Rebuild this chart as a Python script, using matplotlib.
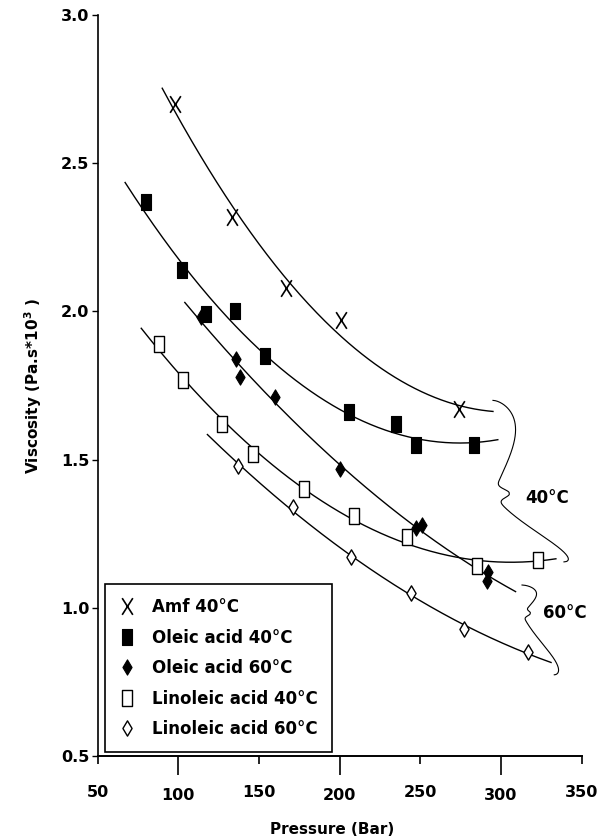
import numpy as np
import matplotlib
matplotlib.use('Agg')
import matplotlib.pyplot as plt
from matplotlib.path import Path
from matplotlib.ticker import FormatStrFormatter

plt.rcParams['font.family'] = ['DejaVu Sans']
plt.rcParams['font.weight'] = 'bold'
plt.rcParams['axes.labelweight'] = 'bold'
plt.rcParams['font.size'] = 11

# values (pressure in bar, viscosity in Pa.s*10^3)
amf_p = [98, 133, 167, 201, 274]
amf_v = [2.70, 2.32, 2.08, 1.97, 1.67]
ole40_p = [80, 102, 117, 135, 154, 206, 235, 247, 283]
ole40_v = [2.37, 2.14, 1.99, 2.00, 1.85, 1.66, 1.62, 1.55, 1.55]
ole60_p = [114, 136, 138, 160, 200, 247, 251, 292, 291]
ole60_v = [1.98, 1.84, 1.78, 1.71, 1.47, 1.27, 1.28, 1.12, 1.09]
lin40_p = [88, 103, 127, 146, 178, 209, 242, 285, 323]
lin40_v = [1.89, 1.77, 1.62, 1.52, 1.40, 1.31, 1.24, 1.14, 1.16]
lin60_p = [137, 171, 207, 244, 277, 317]
lin60_v = [1.48, 1.34, 1.17, 1.05, 0.93, 0.85]

labels = ['Amf 40°C', 'Oleic acid 40°C', 'Oleic acid 60°C',
          'Linoleic acid 40°C', 'Linoleic acid 60°C']
# pressure range covered by each fitted (quadratic) curve
fit_from = [90, 67, 104, 77, 118]
fit_to = [295, 298, 309, 334, 331]

# marker shapes
x_mark = Path([(-0.32, 0.5), (0.32, -0.5), (0.32, 0.5), (-0.32, -0.5)],
              [Path.MOVETO, Path.LINETO, Path.MOVETO, Path.LINETO])
rect = Path([(-0.3, -0.5), (0.3, -0.5), (0.3, 0.5), (-0.3, 0.5), (-0.3, -0.5)],
            closed=True)
diam = Path([(0, 0.5), (0.3, 0), (0, -0.5), (-0.3, 0), (0, 0.5)], closed=True)

series = [
    (amf_p, amf_v, dict(marker=x_mark, ms=12, mfc='none', mec='k', mew=1.2)),
    (ole40_p, ole40_v, dict(marker=rect, ms=12, mfc='k', mec='k', mew=0.8)),
    (ole60_p, ole60_v, dict(marker=diam, ms=11, mfc='k', mec='k', mew=0.8)),
    (lin40_p, lin40_v, dict(marker=rect, ms=12, mfc='white', mec='k', mew=1.0)),
    (lin60_p, lin60_v, dict(marker=diam, ms=11, mfc='white', mec='k', mew=1.0)),
]

fig = plt.figure(figsize=(6.03, 8.4), dpi=100)
ax = fig.add_axes([0.162, 0.1, 0.8027, 0.882])

for i, (p, v, st) in enumerate(series):
    c = np.polyfit(p, v, 2)
    xx = np.linspace(fit_from[i], fit_to[i], 200)
    ax.plot(xx, np.polyval(c, xx), color='k', lw=1.0, zorder=2)
    ax.plot(p, v, ls='none', label=labels[i], zorder=3, **st)


def brace(ax, x_top, y_top, y_tip, y_bot, x_bot, w, h):
    # hand-drawn looking curly brace, tip pointing right
    t = np.linspace(0, 1, 500)
    tm = (y_top - y_tip) / (y_top - y_bot)
    base = np.where(t < tm, x_top,
                    x_top + (x_bot - x_top) * (np.clip(t - tm, 0, None) / (1 - tm)) ** 2)
    u = np.where(t < tm, t / tm, (1 - t) / (1 - tm))
    off = w * np.sin(np.pi * u ** 0.6) + h * np.exp(-((t - tm) / 0.035) ** 2)
    ax.plot(base + off, y_top + (y_bot - y_top) * t, color='k', lw=0.8, clip_on=False)


brace(ax, 295, 1.70, 1.386, 1.155, 339, 14, 10)
brace(ax, 313, 1.077, 0.981, 0.774, 333, 9, 5)
ax.text(315, 1.372, '40°C', fontsize=12, va='center', ha='left')
ax.text(326, 0.981, '60°C', fontsize=12, va='center', ha='left')

ax.set_xlim(50, 350)
ax.set_ylim(0.5, 3.0)
ax.spines['top'].set_visible(False)
ax.spines['right'].set_visible(False)
ax.spines['left'].set_linewidth(1.2)
ax.spines['bottom'].set_linewidth(1.4)

ax.set_yticks([0.5, 1.0, 1.5, 2.0, 2.5, 3.0])
ax.yaxis.set_major_formatter(FormatStrFormatter('%.1f'))
ax.tick_params(axis='y', direction='out', length=4, width=1.0, pad=2, labelsize=11.5)

ax.set_xticks([50, 150, 250, 350])
ax.set_xticks([100, 200, 300], minor=True)
ax.xaxis.set_major_formatter(FormatStrFormatter('%d'))
ax.xaxis.set_minor_formatter(FormatStrFormatter('%d'))
ax.tick_params(axis='x', which='major', direction='out', length=6, width=1.2,
               pad=15, labelsize=11.5)
ax.tick_params(axis='x', which='minor', direction='out', length=14, width=1.2,
               pad=9, labelsize=11.5)

ax.set_xlabel('Pressure (Bar)', fontsize=11, fontweight='bold')
ax.xaxis.set_label_coords(0.484, -0.089)
ax.set_ylabel(r'Viscosity (Pa.s*10$^{\mathbf{3}}$ )', fontsize=11, fontweight='bold')
ax.yaxis.set_label_coords(-0.111, 0.5)

leg = ax.legend(loc='lower left', bbox_to_anchor=(0.015, 0.005), borderaxespad=0,
                fancybox=False, edgecolor='k', framealpha=1, fontsize=12,
                handlelength=0.9, handletextpad=1.1, labelspacing=0.75,
                borderpad=0.85, numpoints=1)
leg.get_frame().set_linewidth(1.2)

fig.savefig('out.png', dpi=100)
